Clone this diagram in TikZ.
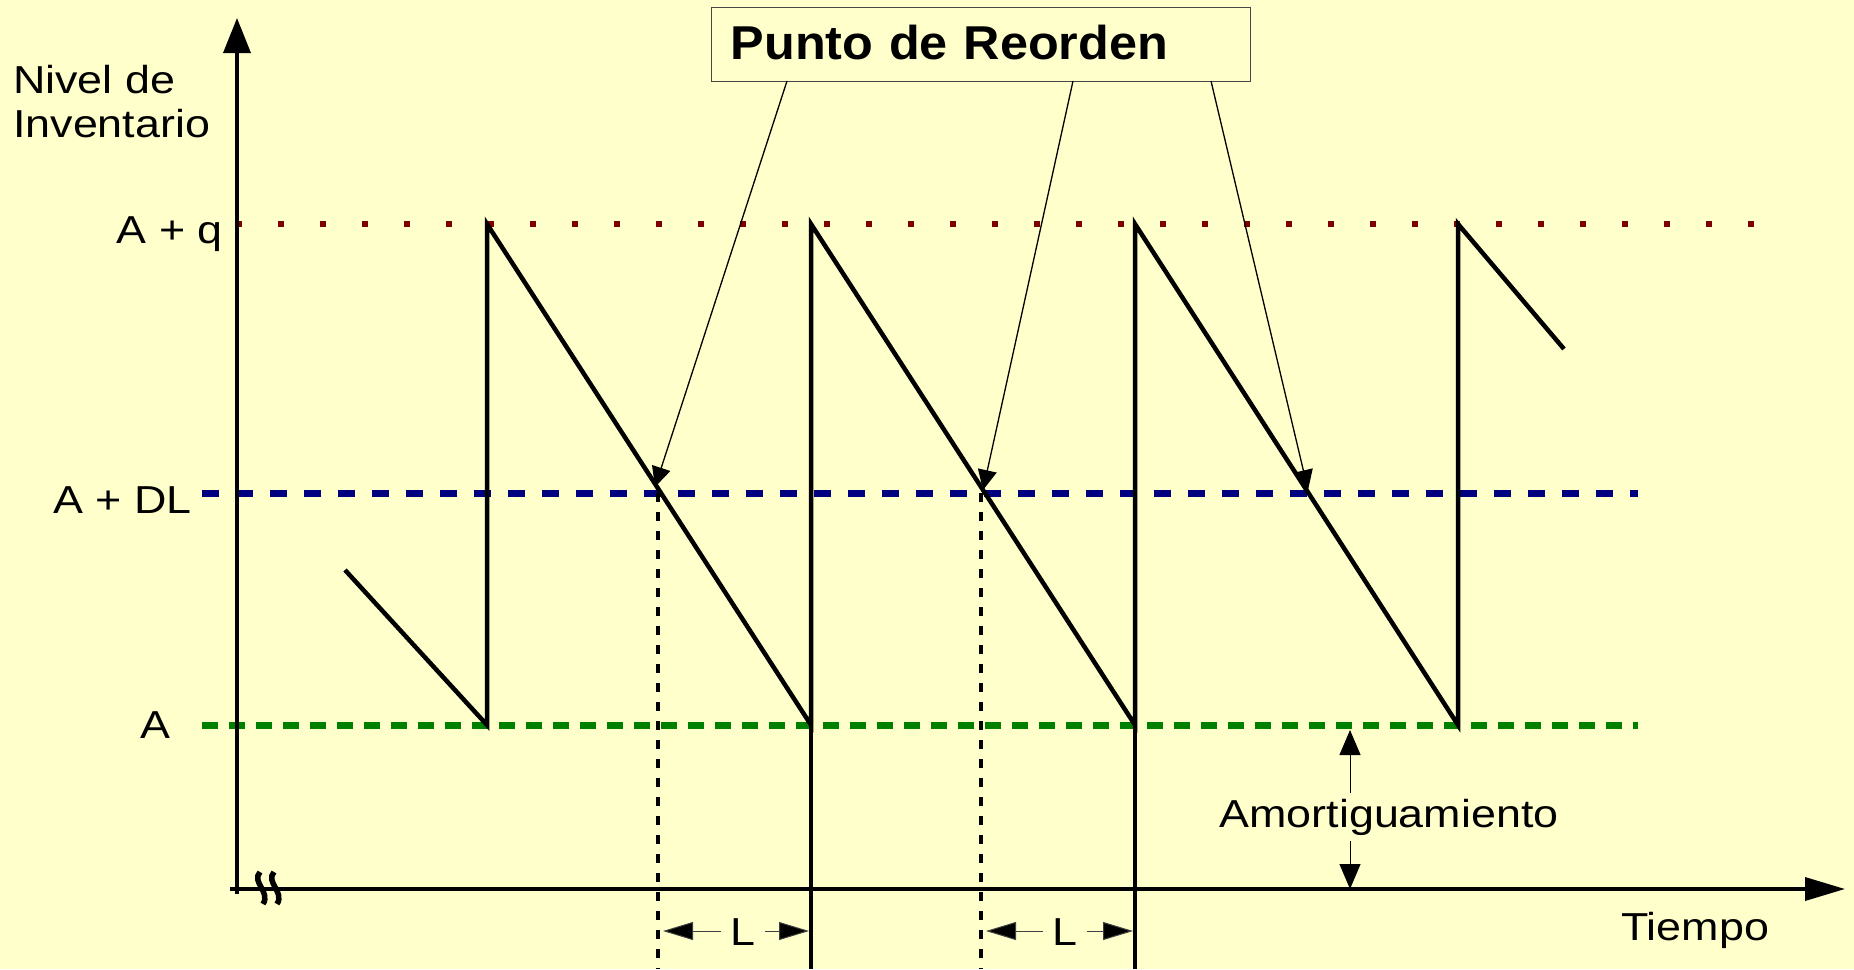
\documentclass[tikz,border=0pt]{standalone}
\usepackage{fontspec}
\setmainfont{Liberation Sans}[FakeStretch=1.15]
\newfontfamily\titlefont{Liberation Sans}[FakeStretch=1.06]
\usetikzlibrary{arrows.meta}
\definecolor{bgc}{RGB}{255,255,204}
\definecolor{redlvl}{RGB}{128,0,0}
\definecolor{bluelvl}{RGB}{0,0,128}
\definecolor{greenlvl}{RGB}{0,128,0}
\definecolor{boxline}{RGB}{70,70,70}
\begin{document}
\begin{tikzpicture}[x=1pt,y=-1pt,
  lbl/.style={font=\fontsize{39}{44}\selectfont, inner sep=0pt},
  axisline/.style={line width=3.5pt},
  saw/.style={line width=4.5pt},
  leader/.style={line width=1.3pt, -{Triangle[length=20pt,width=19pt]}},
  reorder/.style={line width=4pt, dash pattern=on 9pt off 10pt},
  larrow/.style={line width=1pt, draw=black!75, -{Triangle[length=30pt,width=18pt,fill=black]}},
  amarrow/.style={line width=1pt, {Triangle[length=25pt,width=21pt]}-{Triangle[length=25pt,width=21pt]}}
]
\useasboundingbox (0,0) rectangle (1854,969);
\fill[bgc] (0,0) rectangle (1854,969);

% level lines
\draw[redlvl, line width=6pt, dash pattern=on 6pt off 36pt] (236,224) -- (1770,224);
\draw[bluelvl, line width=7pt, dash pattern=on 17pt off 17pt] (202,493) -- (1638,493);
\draw[greenlvl, line width=7pt, dash pattern=on 16pt off 11pt] (202,725) -- (1638,725);

% key coordinates
\coordinate (S0) at (345,570);
\coordinate (b1) at (487,725);
\coordinate (t1) at (487,224);
\coordinate (b2) at (811,725);
\coordinate (t2) at (811,224);
\coordinate (b3) at (1135,725);
\coordinate (t3) at (1135,224);
\coordinate (b4) at (1458,725);
\coordinate (t4) at (1458,224);
\coordinate (E) at (1564,349);
\coordinate (d2) at (811,969);
\coordinate (d3) at (1135,969);
\coordinate (r1) at (658,493);
\coordinate (r1b) at (658,969);
\coordinate (r2) at (981,493);
\coordinate (r2b) at (981,969);

% reorder dotted verticals
\draw[reorder] (r1) -- (r1b);
\draw[reorder] (r2) -- (r2b);

% axes
\coordinate (yb) at (237,894);
\coordinate (yt) at (237,18);
\coordinate (xl) at (230,889);
\coordinate (xr) at (1845,889);
\draw[axisline, -{Triangle[length=35pt,width=27pt]}] (yb) -- (yt);
\draw[axisline, -{Triangle[length=40pt,width=23pt]}] (xl) -- (xr);

% axis break mark
\draw[line width=5.5pt] (260,872) .. controls (251,882) and (271,892) .. (263,904);
\draw[line width=5.5pt] (274,872) .. controls (265,882) and (285,892) .. (277,904);

% sawtooth
\draw[saw] (S0) -- (b1) -- (t1) -- (b2) -- (t2) -- (b3) -- (t3) -- (b4) -- (t4) -- (E);
\draw[saw] (b2) -- (d2);
\draw[saw] (b3) -- (d3);

% labels
\node[lbl, anchor=base west] (nivelA) at (13,93) {Nivel de};
\node[lbl, anchor=base west] (nivelB) at (13,137) {Inventario};
\node[lbl, anchor=base east] (lq) at (223,243) {A + q};
\node[lbl, anchor=base east] (ldl) at (192,513) {A + DL};
\node[lbl, anchor=base east] (la) at (171,738) {A};
\node[lbl, anchor=base west] (tiempo) at (1621,940) {Tiempo};

% reorder point box
\node[draw=boxline, line width=1.3pt, fill=bgc, anchor=north west,
      minimum width=539pt, minimum height=74pt, text width=501pt,
      text height=29pt, text depth=0pt,
      inner xsep=19pt, inner ysep=0pt, align=left,
      font=\titlefont\bfseries\fontsize{47.5}{50}\selectfont] (box) at (711,7) {Punto de Reorden};
\coordinate (s1) at (787,81);
\coordinate (s2) at (1073,81);
\coordinate (s3) at (1211,81);
\coordinate (p1) at (655,487);
\coordinate (p2) at (983,490);
\coordinate (p3) at (1308,490);
\draw[leader] (s1) -- (p1);
\draw[leader] (s2) -- (p2);
\draw[leader] (s3) -- (p3);

% lead time L arrows
\node[lbl, inner sep=9pt, anchor=base] (L1) at (743,945) {L};
\node[lbl, inner sep=9pt, anchor=base] (L2) at (1065,945) {L};
\coordinate (l1a) at (663,931);
\coordinate (l1b) at (809,931);
\coordinate (l2a) at (986,931);
\coordinate (l2b) at (1133,931);
\draw[larrow] (L1.west |- l1a) -- (l1a);
\draw[larrow] (L1.east |- l1b) -- (l1b);
\draw[larrow] (L2.west |- l2a) -- (l2a);
\draw[larrow] (L2.east |- l2b) -- (l2b);

% safety stock
\coordinate (am1) at (1350,730);
\coordinate (am2) at (1350,889);
\draw[amarrow] (am1) -- (am2);
\node[lbl, fill=bgc, inner xsep=0pt, inner ysep=6pt, anchor=base] (amort) at (1389,827) {Amortiguamiento};
\end{tikzpicture}
\end{document}
